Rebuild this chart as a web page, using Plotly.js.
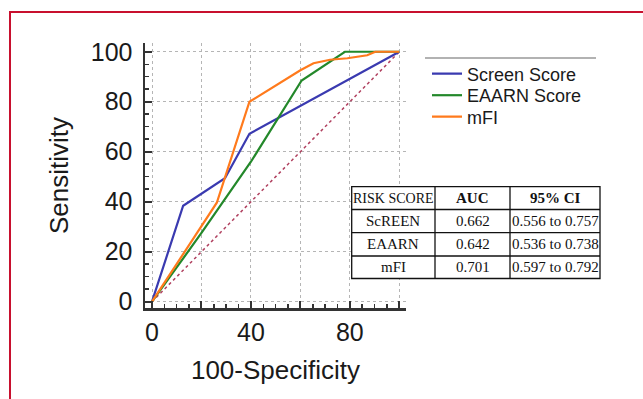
<!DOCTYPE html>
<html>
<head>
<meta charset="utf-8">
<script src="https://cdn.plot.ly/plotly-3.0.1.min.js"></script>
<style>
html, body { margin: 0; padding: 0; background: #ffffff; }
#wrap { position: relative; width: 643px; height: 399px; overflow: hidden; }
#chart { position: absolute; left: 0; top: 0; width: 643px; height: 399px; }
#frame { position: absolute; left: 9px; top: 11px; width: 700px; height: 500px;
         border-left: 2px solid #c8102e; border-top: 2px solid #c8102e; pointer-events: none; }
</style>
</head>
<body>
<div id="wrap"><div id="chart"></div><div id="frame"></div></div>
<script>
// ---- data ----
const screenX = [0, 12.6, 29.5, 39.4, 100];
const screenY = [0, 38.4, 49.4, 67.2, 100];

const eaarnX = [0, 20, 40, 50, 60.5, 78, 100];
const eaarnY = [0, 27.5, 56, 72, 88.5, 100, 100];

const mfiX = [0, 26.2, 39.4, 60, 65.3, 72, 79, 87, 90.3, 100];
const mfiY = [0, 39.6, 80, 92.6, 95.4, 96.8, 97.4, 98.6, 100, 100];

const refX = [0, 100];
const refY = [0, 100];

const seriesNames = ['Screen Score', 'EAARN Score', 'mFI'];
const seriesColors = ['#3a3ab0', '#23882a', '#ff7a1c'];

const tableHeader = ['RISK SCORE', '<b>AUC</b>', '<b>95% CI</b>'];
const riskScores = ['ScREEN', 'EAARN', 'mFI'];
const aucValues = ['0.662', '0.642', '0.701'];
const ciValues = ['0.556 to 0.757', '0.536 to 0.738', '0.597 to 0.792'];

const xTickVals = [0, 20, 40, 60, 80, 100];
const xTickText = ['0', '', '40', '', '80', ''];
const yTickVals = [0, 20, 40, 60, 80, 100];

// ---- layout geometry ----
const W = 643, H = 399;
const mL = 145, mR = 30, mT = 43, mB = 91;
const plotW = W - mL - mR;
const plotH = H - mT - mB;
const axisRight = 406;
const px = v => (v - mL) / plotW;
const py = v => (H - mB - v) / plotH;

const sansFont = 'Liberation Sans, Arial, sans-serif';
const serifFont = 'Liberation Serif, Times New Roman, serif';
const textColor = '#1a1a1a';

// table grid (pixel layout)
const colEdges = [351.7, 435, 510, 600];
const rowEdges = [186.7, 209.5, 232.7, 256, 278.5];

const traces = [
  { x: refX, y: refY, mode: 'lines', showlegend: false, hoverinfo: 'skip',
    line: { color: '#b0405f', width: 1.5, dash: 'dot' } },
  { x: screenX, y: screenY, mode: 'lines', name: seriesNames[0], legend: 'legend',
    line: { color: seriesColors[0], width: 2.2 } },
  { x: eaarnX, y: eaarnY, mode: 'lines', name: seriesNames[1], legend: 'legend2',
    line: { color: seriesColors[1], width: 2.2 } },
  { x: mfiX, y: mfiY, mode: 'lines', name: seriesNames[2], legend: 'legend3',
    line: { color: seriesColors[2], width: 2.2 } }
];

const axisCommon = {
  showline: true, linecolor: '#333', linewidth: 2.5, mirror: false,
  ticks: 'inside', ticklen: 7, tickwidth: 2, tickcolor: '#333',
  showgrid: true, gridcolor: '#b5b5b5', gridwidth: 1, griddash: 'dot',
  zeroline: false, tickfont: { family: sansFont, size: 25, color: textColor },
  fixedrange: true
};

const legendBase = (yPix) => ({
  x: px(427), y: py(yPix), xanchor: 'left', yanchor: 'middle',
  bgcolor: 'rgba(0,0,0,0)', borderwidth: 0,
  font: { family: sansFont, size: 18, color: textColor },
  itemwidth: 30
});

// table shapes & annotations
const shapes = [
  { type: 'line', xref: 'paper', yref: 'paper',
    x0: px(425), x1: px(596), y0: py(58), y1: py(58),
    line: { color: '#999999', width: 1.5 } },
  { type: 'rect', xref: 'paper', yref: 'paper', layer: 'above',
    x0: px(colEdges[0]), x1: px(colEdges[colEdges.length - 1]),
    y0: py(rowEdges[0]), y1: py(rowEdges[rowEdges.length - 1]),
    fillcolor: '#ffffff', line: { color: '#111', width: 1.3 } }
];
colEdges.slice(1, -1).forEach(c => shapes.push({ type: 'line', xref: 'paper', yref: 'paper', layer: 'above',
  x0: px(c), x1: px(c), y0: py(rowEdges[0]), y1: py(rowEdges[rowEdges.length - 1]),
  line: { color: '#111', width: 1.3 } }));
rowEdges.slice(1, -1).forEach(r => shapes.push({ type: 'line', xref: 'paper', yref: 'paper', layer: 'above',
  x0: px(colEdges[0]), x1: px(colEdges[colEdges.length - 1]), y0: py(r), y1: py(r),
  line: { color: '#111', width: 1.3 } }));

const tableRows = [tableHeader].concat(riskScores.map((r, i) => [r, aucValues[i], ciValues[i]]));
const annotations = [];
tableRows.forEach((row, ri) => {
  row.forEach((txt, ci) => {
    annotations.push({
      xref: 'paper', yref: 'paper', showarrow: false,
      x: px((colEdges[ci] + colEdges[ci + 1]) / 2),
      y: py((rowEdges[ri] + rowEdges[ri + 1]) / 2),
      xanchor: 'center', yanchor: 'middle', text: txt,
      font: { family: serifFont, size: (ri === 0 && ci === 0) ? 14 : 15, color: '#111' }
    });
  });
});

const layout = {
  width: W, height: H,
  margin: { l: mL, r: mR, t: mT, b: mB },
  paper_bgcolor: 'rgba(0,0,0,0)', plot_bgcolor: 'rgba(0,0,0,0)',
  showlegend: true,
  xaxis: Object.assign({}, axisCommon, {
    domain: [0, (axisRight - mL) / plotW],
    range: [-2.83, 102.7],
    tickmode: 'array', tickvals: xTickVals, ticktext: xTickText,
    minor: { dtick: 5, tick0: 0, ticks: 'inside', ticklen: 4, tickwidth: 1.5, tickcolor: '#333', showgrid: false },
    title: { text: '100-Specificity', font: { family: sansFont, size: 26, color: textColor }, standoff: 17 }
  }),
  yaxis: Object.assign({}, axisCommon, {
    range: [-2.52, 103.5],
    tickmode: 'array', tickvals: yTickVals, ticklabelstandoff: 5,
    minor: { dtick: 5, tick0: 0, ticks: 'inside', ticklen: 4, tickwidth: 1.5, tickcolor: '#333', showgrid: false },
    title: { text: 'Sensitivity', font: { family: sansFont, size: 26, color: textColor }, standoff: 15 }
  }),
  legend: legendBase(74),
  legend2: legendBase(95.5),
  legend3: legendBase(117),
  shapes: shapes,
  annotations: annotations
};

Plotly.newPlot('chart', traces, layout, { displayModeBar: false, staticPlot: true });
</script>
</body>
</html>
